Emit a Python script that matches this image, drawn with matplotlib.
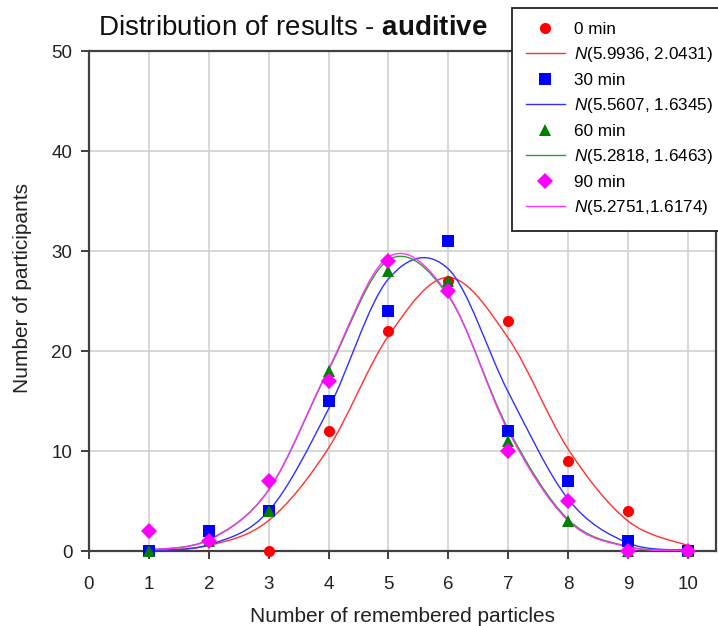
import matplotlib
matplotlib.use("Agg")
import matplotlib.pyplot as plt
from matplotlib.path import Path
from matplotlib.patches import PathPatch
from matplotlib.lines import Line2D

plt.rcParams['font.family'] = ['Liberation Sans', 'DejaVu Sans']
plt.rcParams['mathtext.fontset'] = 'custom'
plt.rcParams['mathtext.rm'] = 'Liberation Sans'
plt.rcParams['mathtext.it'] = 'Liberation Sans:italic'
plt.rcParams['mathtext.bf'] = 'Liberation Sans:bold'

# ---- data ----
particles = [1, 2, 3, 4, 5, 6, 7, 8, 9, 10]
series_names = ["0 min", "30 min", "60 min", "90 min"]
fit_labels = [r"$\it{N}$(5.9936, 2.0431)", r"$\it{N}$(5.5607, 1.6345)",
              r"$\it{N}$(5.2818, 1.6463)", r"$\it{N}$(5.2751,1.6174)"]

obs_0 = [0, 1, 0, 12, 22, 27, 23, 9, 4, 0]
obs_30 = [0, 2, 4, 15, 24, 31, 12, 7, 1, 0]
obs_60 = [0, 1, 4, 18, 28, 27, 11, 3, 0, 0]
obs_90 = [2, 1, 7, 17, 29, 26, 10, 5, 0, 0]

fit_0 = [0.06, 0.55, 3.05, 10.3, 21.5, 27.35, 21.3, 10.2, 3.0, 0.54]
fit_30 = [0.05, 0.62, 4.0, 14.2, 27.2, 28.2, 15.9, 5.2, 0.8, 0.07]
fit_60 = [0.11, 1.13, 6.1, 18.1, 29.1, 25.5, 12.2, 3.16, 0.45, 0.03]
fit_90 = [0.11, 1.09, 6.1, 18.2, 29.4, 25.6, 12.0, 3.03, 0.41, 0.03]

colors = ['#ff0000', '#0000ff', '#008000', '#ff00ff']
line_colors = ['#ff3030', '#3030ff', '#309a30', '#ff30ff']
markers = ['o', 's', '^', 'D']
msizes = [8, 8, 9, 8.5]

observations = [obs_0, obs_30, obs_60, obs_90]
fits = [fit_0, fit_30, fit_60, fit_90]

fig = plt.figure(figsize=(7.18, 6.26), dpi=100)
ax = fig.add_axes([89/718, 1-551/626, 627/718, 500/626])


def smooth_path(xs, ys):
    pts = list(zip(xs, ys))
    n = len(pts)
    verts = [pts[0]]
    codes = [Path.MOVETO]
    for i in range(n - 1):
        p0 = pts[i - 1] if i > 0 else pts[i]
        p1 = pts[i]
        p2 = pts[i + 1]
        p3 = pts[i + 2] if i + 2 < n else pts[i + 1]
        c1 = (p1[0] + (p2[0] - p0[0]) / 6, p1[1] + (p2[1] - p0[1]) / 6)
        c2 = (p2[0] - (p3[0] - p1[0]) / 6, p2[1] - (p3[1] - p1[1]) / 6)
        verts += [c1, c2, p2]
        codes += [Path.CURVE4] * 3
    return Path(verts, codes)


for fit, lc in zip(fits, line_colors):
    patch = PathPatch(smooth_path(particles, fit), facecolor='none',
                      edgecolor=lc, linewidth=1.0, zorder=3)
    ax.add_patch(patch)

for obs, c, m, ms in zip(observations, colors, markers, msizes):
    ax.plot(particles, obs, linestyle='none', marker=m, color=c,
            markersize=ms, markeredgewidth=0, zorder=4, clip_on=False)

ax.set_xlim(0, 10.47)
ax.set_ylim(0, 50)
ax.set_xticks(range(0, 11))
ax.set_yticks(range(0, 51, 10))
ax.grid(True, color='#d4d4d4', linewidth=1.3)
ax.set_axisbelow(True)
for s in ax.spines.values():
    s.set_color('#404040')
    s.set_linewidth(1.6)
ax.tick_params(axis='both', direction='out', length=6, width=1.4,
               color='#404040', labelsize=13.5, labelcolor='#222222')
ax.tick_params(axis='x', pad=12)
ax.tick_params(axis='y', pad=6)

fig.text(402/718, 1-622/626, "Number of remembered particles",
         ha='center', va='baseline', fontsize=15, color='#222222')
fig.text(23/718, 1-288/626, "Number of participants", rotation=90,
         ha='center', va='center', fontsize=15, color='#222222')
fig.text(293/718, 1-35/626, r"Distribution of results - $\bf{auditive}$",
         ha='center', va='baseline', fontsize=20, color='#111111')

handles = []
labels = []
for name, fl, c, lc, m, ms in zip(series_names, fit_labels, colors,
                                  line_colors, markers, msizes):
    handles.append(Line2D([], [], linestyle='none', marker=m, color=c,
                          markersize=ms, markeredgewidth=0))
    labels.append(name)
    handles.append(Line2D([], [], color=lc, linewidth=1.0))
    labels.append(fl)

leg = fig.legend(handles, labels, loc='upper left',
                 bbox_to_anchor=(512/718, 1-8/626), fontsize=12.3,
                 frameon=True, fancybox=False, edgecolor='#222222',
                 framealpha=1, handlelength=2.3, handletextpad=0.5,
                 labelspacing=0.5, borderpad=0.8, borderaxespad=0)
leg.get_frame().set_linewidth(1.3)

fig.savefig("out.png", dpi=100)
